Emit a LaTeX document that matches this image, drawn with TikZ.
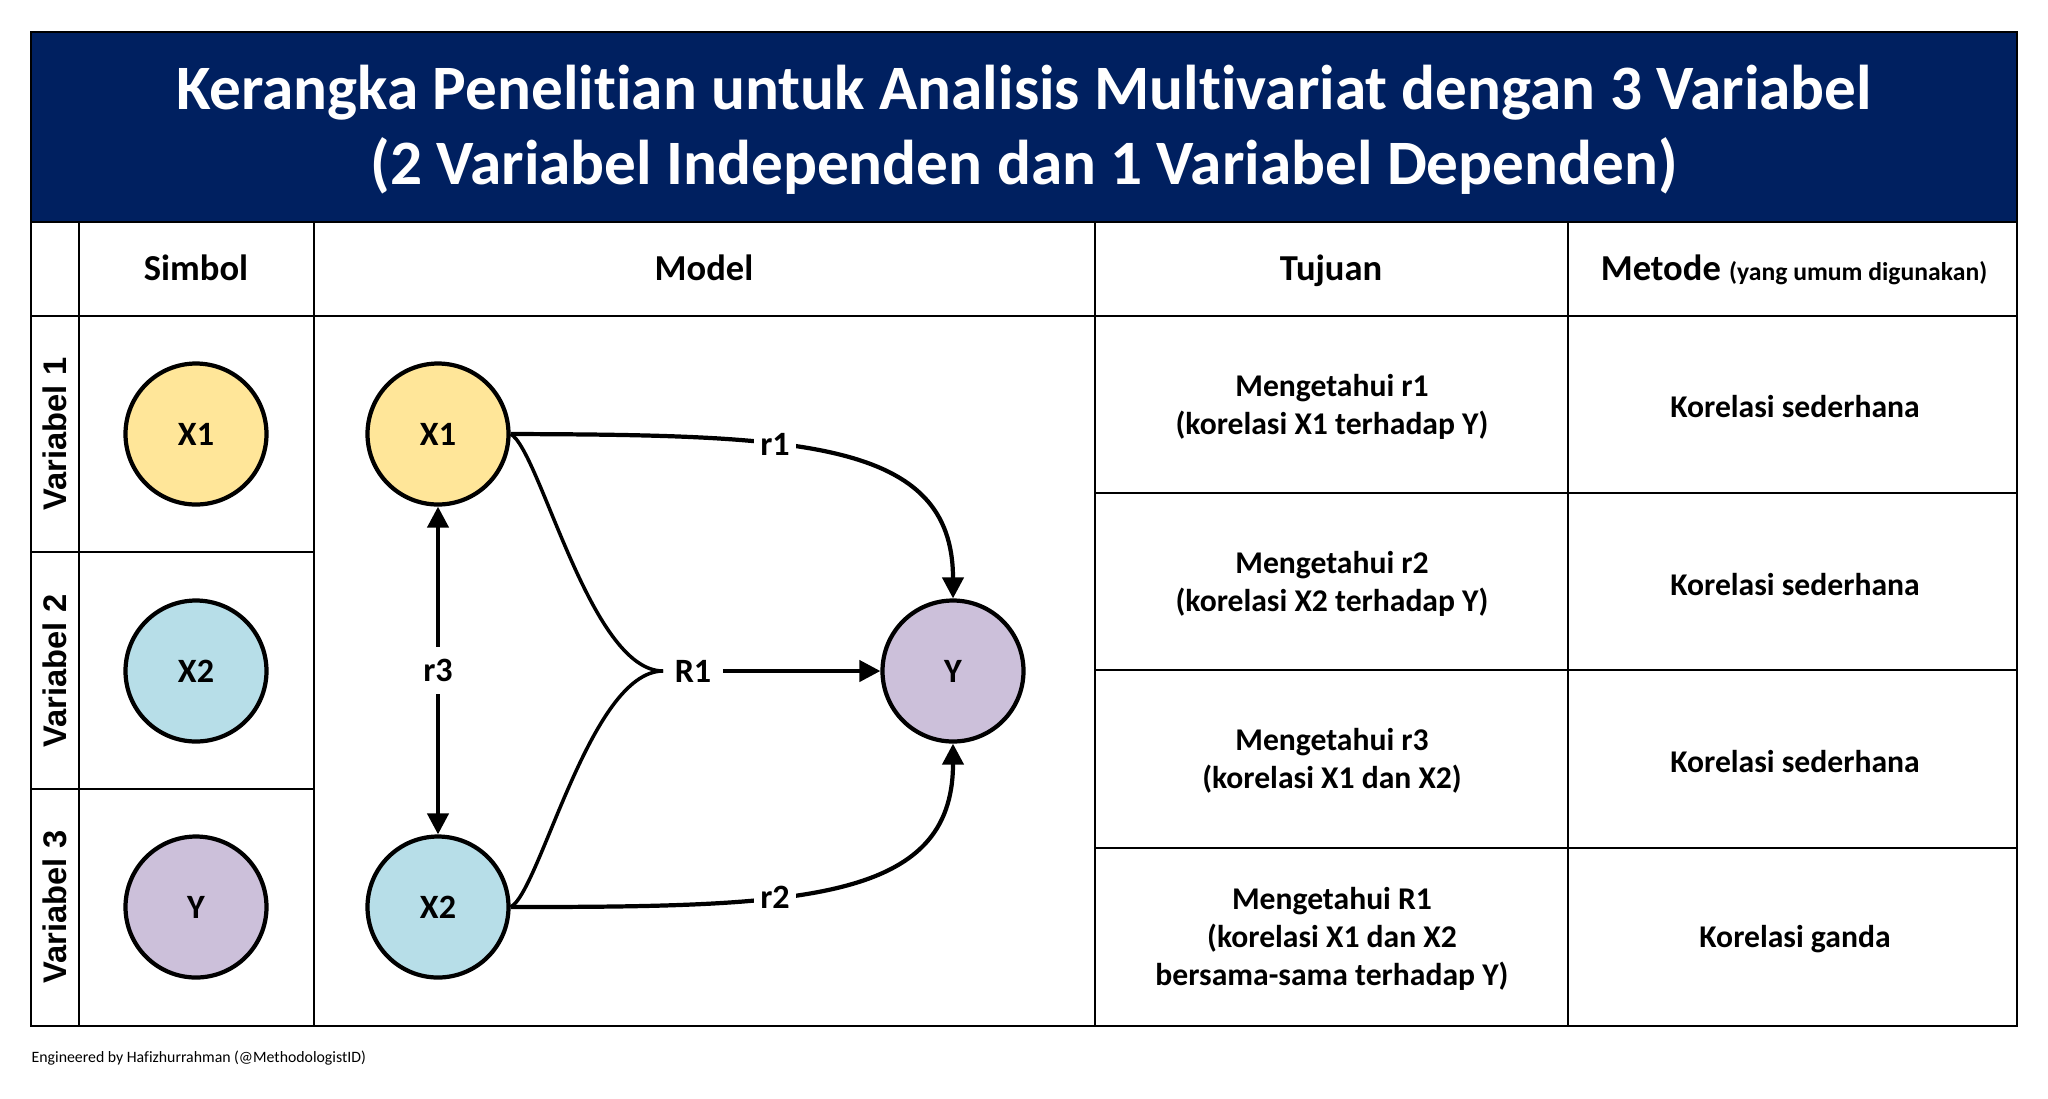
\documentclass[tikz,border=0pt]{standalone}
\usepackage{fontspec}
\setmainfont{Carlito}[Ligatures=NoCommon]
\newfontfamily\arialfont{Liberation Sans}
\usetikzlibrary{arrows.meta}

\definecolor{birutua}{HTML}{002060}
\definecolor{kuning}{HTML}{FFE699}
\definecolor{birumuda}{HTML}{B7DEE8}
\definecolor{ungu}{HTML}{CCC0DA}

\begin{document}
\begin{tikzpicture}[x=0.1mm, y=-0.1mm,
    garis/.style={line width=0.8pt},
    simpul/.style={circle, draw, line width=1.2pt, minimum size=14.1mm, inner sep=0pt,
        font=\bfseries\fontsize{9.7}{11.6}\selectfont},
    kepala/.style={anchor=base, font=\bfseries\fontsize{10.4}{12.5}\selectfont},
    isi/.style={align=center, font=\bfseries\fontsize{9}{10.8}\selectfont},
    teks/.style={fill=white, inner sep=0.6mm, font=\bfseries\fontsize{9.7}{11.6}\selectfont},
    panah/.style={line width=1.2pt, -{Triangle[length=2.1mm, width=2.1mm]}},
    panahdua/.style={line width=1.2pt, {Triangle[length=2.1mm, width=2.1mm]}-{Triangle[length=2.1mm, width=2.1mm]}}]
    \useasboundingbox (0,0) rectangle (2048,1098);

    % Judul
    \fill[birutua] (31,32) rectangle (2017,222);
    \node[white, anchor=base, font=\bfseries\fontsize{18}{21}\selectfont] (judul1) at (1024,109)
        {Kerangka Penelitian untuk Analisis Multivariat dengan 3 Variabel};
    \node[white, anchor=base, font=\bfseries\fontsize{18}{21}\selectfont] (judul2) at (1024,184)
        {(2 Variabel Independen dan 1 Variabel Dependen)};

    % Tabel
    \draw[garis] (31,32) rectangle (2017,1026);
    \draw[garis] (31,222) -- (2017,222);
    \draw[garis] (31,316) -- (2017,316);
    \foreach \x in {79,314,1095,1568}
        \draw[garis] (\x,222) -- (\x,1026);
    \foreach \y in {552,789}
        \draw[garis] (31,\y) -- (314,\y);
    \foreach \y in {493,670,848}
        \draw[garis] (1095,\y) -- (2017,\y);

    % Kepala kolom
    \node[kepala] (hsimbol) at (196,280) {Simbol};
    \node[kepala] (hmodel) at (704,280) {Model};
    \node[kepala] (htujuan) at (1331,280) {Tujuan};
    \node[kepala] (hmetode) at (1794,280) {Metode {\fontsize{7.3}{8}\selectfont (yang umum digunakan)}};

    % Variabel dan simbol
    \foreach \y/\n in {434/1, 671/2, 907/3}
        \node[rotate=90, font=\arialfont\bfseries\fontsize{9.3}{11}\selectfont] (var\n) at (55,\y) {Variabel \n};
    \node[simpul, fill=kuning] (sx1) at (196,434) {X1};
    \node[simpul, fill=birumuda] (sx2) at (196,671) {X2};
    \node[simpul, fill=ungu] (sy) at (196,907) {Y};

    % Model
    \node[simpul, fill=kuning] (x1) at (438,434) {X1};
    \node[simpul, fill=birumuda] (x2) at (438,907) {X2};
    \node[simpul, fill=ungu] (y) at (953,671) {Y};
    \node[teks, inner sep=1.1mm] (R1) at (693,671) {R1};

    \draw[panahdua] (x1) -- node[teks, inner sep=1.2mm] (r3) {r3} (x2);
    \draw[panah] (x1.east) .. controls (800,435) and (953,440) .. node[teks, pos=0.37] (r1) {r1} (y.north);
    \draw[panah] (x2.east) .. controls (800,907) and (953,902) .. node[teks, pos=0.37] (r2) {r2} (y.south);
    \draw[line width=1pt] (x1.east) .. controls (540,450) and (590,671) .. (R1.west);
    \draw[line width=1pt] (x2.east) .. controls (540,892) and (590,671) .. (R1.west);
    \draw[panah] (R1) -- (y);

    % Tujuan
    \node[isi] (t1) at (1332,407) {Mengetahui r1\\(korelasi X1 terhadap Y)};
    \node[isi] (t2) at (1332,584) {Mengetahui r2\\(korelasi X2 terhadap Y)};
    \node[isi] (t3) at (1332,761) {Mengetahui r3\\(korelasi X1 dan X2)};
    \node[isi] (t4) at (1332,939) {Mengetahui R1\\(korelasi X1 dan X2\\bersama-sama terhadap Y)};

    % Metode
    \node[isi] (m1) at (1795,407) {Korelasi sederhana};
    \node[isi] (m2) at (1795,584) {Korelasi sederhana};
    \node[isi] (m3) at (1795,761) {Korelasi sederhana};
    \node[isi] (m4) at (1795,939) {Korelasi ganda};

    % Kredit
    \node[anchor=base west, inner sep=0pt, font=\fontsize{4.5}{5.5}\selectfont] (kredit) at (31,1062)
        {Engineered by Hafizhurrahman (@MethodologistID)};
\end{tikzpicture}
\end{document}
